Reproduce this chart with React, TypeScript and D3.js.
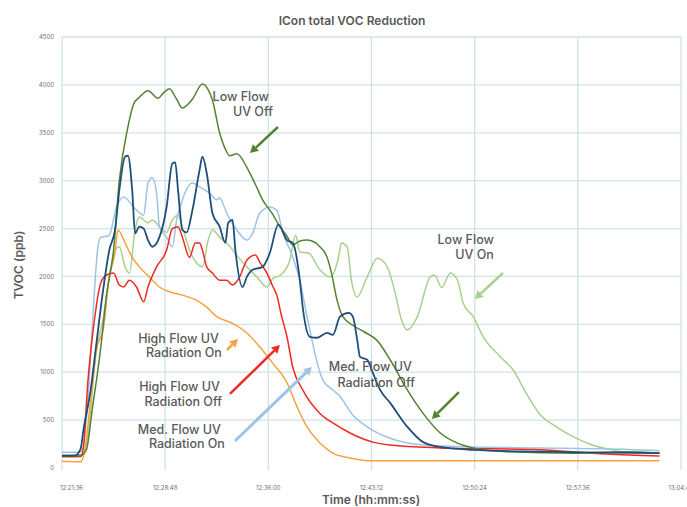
import * as d3 from "d3";

// elapsed minutes since 12:21:36, TVOC in ppb
const LOW_FLOW_OFF: [number, number][] = [
  [0, 130], [1.3, 135], [1.7, 190], [2.1, 600], [2.7, 1250], [3.1, 1800], [3.6, 2275], [4.0, 3000],
  [4.6, 3560], [5.0, 3800], [5.4, 3870], [6.0, 3940], [6.7, 3860], [7.1, 3920], [7.5, 3960], [8.0, 3850],
  [8.4, 3760], [9.1, 3850], [9.8, 4010], [10.2, 3950], [10.5, 3840], [11.0, 3500], [11.4, 3330], [11.7, 3260],
  [12.2, 3280], [12.9, 3140], [13.5, 2960], [14.0, 2800], [14.7, 2650], [15.2, 2520], [15.7, 2420], [16.1, 2330],
  [16.6, 2370], [17.1, 2380], [17.6, 2360], [18.0, 2310], [18.5, 2200], [18.8, 2040], [19.2, 1750], [19.6, 1580],
  [20.4, 1480], [21.1, 1420], [22.0, 1330], [22.9, 1130], [24.1, 815], [25.2, 570], [26.4, 365], [27.6, 260],
  [28.7, 210], [31.0, 170], [35.7, 155], [39.1, 170], [41.7, 155],
];

const LOW_FLOW_ON: [number, number][] = [
  [0, 115], [1.3, 120], [1.8, 325], [2.4, 1230], [2.9, 1580], [3.3, 2000], [3.7, 2275], [4.0, 2310],
  [4.4, 2100], [4.7, 2035], [5.1, 2485], [5.4, 2620], [6.0, 2560], [6.3, 2590], [6.8, 2520], [7.3, 2460],
  [7.7, 2590], [8.1, 2640], [8.4, 2520], [8.9, 2275], [9.4, 2140], [9.8, 2100], [10.2, 2380], [10.5, 2485],
  [11.0, 2410], [11.5, 2350], [12.2, 2220], [12.9, 2100], [13.6, 1995], [14.3, 1890], [14.7, 1975], [15.3, 2020],
  [15.9, 2170], [16.3, 2430], [16.6, 2255], [17.2, 2245], [18.0, 2070], [18.7, 1995], [19.3, 2200], [19.5, 2350],
  [19.9, 2310], [20.2, 1960], [20.6, 1785], [21.3, 1995], [22.0, 2190], [22.7, 2100], [23.2, 1860], [23.7, 1545],
  [24.1, 1440], [24.8, 1580], [25.7, 1995], [26.0, 2015], [26.5, 1885], [27.1, 2035], [27.6, 1960], [28.0, 1720],
  [28.7, 1580], [29.4, 1370], [30.6, 1160], [31.5, 1020], [32.4, 780], [33.3, 570], [34.5, 430], [35.7, 325],
  [37.0, 240], [38.4, 190], [39.4, 165], [40.3, 165], [41.7, 155],
];

const MED_FLOW_OFF: [number, number][] = [
  [0, 130], [0.9, 130], [1.3, 200], [1.5, 400], [2.0, 815], [2.4, 1300], [2.9, 1890], [3.3, 2275],
  [3.7, 2485], [4.0, 2900], [4.4, 3250], [4.6, 3260], [4.9, 2900], [5.1, 2450], [5.4, 2520], [5.7, 2500],
  [6.0, 2380], [6.3, 2310], [6.8, 2410], [7.3, 2725], [7.7, 3180], [7.9, 3190], [8.1, 2900], [8.4, 2485],
  [8.7, 2460], [9.1, 2690], [9.6, 3110], [9.8, 3250], [10.1, 3080], [10.5, 2660], [11.0, 2520], [11.4, 2350],
  [11.6, 2560], [11.9, 2590], [12.1, 2275], [12.6, 1890], [12.9, 1995], [13.3, 2070], [14.0, 2100], [14.5, 2245],
  [15.1, 2540], [15.7, 2380], [16.1, 2350], [16.6, 1960], [16.8, 1680], [17.3, 1370], [17.8, 1360], [18.5, 1410],
  [18.9, 1390], [19.4, 1580], [20.0, 1620], [20.3, 1580], [20.6, 1340], [20.8, 1160], [21.3, 1130], [21.7, 990],
  [22.2, 815], [22.9, 680], [24.1, 430], [25.2, 270], [26.4, 220], [28.7, 190], [33.3, 170], [38.0, 160],
  [41.7, 155],
];

const MED_FLOW_ON: [number, number][] = [
  [0, 165], [1.1, 165], [1.4, 180], [1.8, 700], [2.2, 1700], [2.5, 2300], [2.7, 2410], [3.1, 2420],
  [3.3, 2430], [3.8, 2725], [4.3, 2830], [5.0, 2725], [5.7, 2640], [6.0, 2975], [6.3, 3030], [6.6, 2870],
  [6.8, 2520], [7.3, 2410], [7.7, 2310], [8.0, 2590], [8.4, 2800], [9.1, 2975], [9.6, 2935], [10.3, 2870],
  [10.8, 2800], [11.0, 2820], [11.5, 2660], [12.2, 2485], [12.9, 2380], [13.3, 2450], [13.8, 2660], [14.5, 2725],
  [15.0, 2690], [15.4, 2460], [16.0, 2245], [16.6, 1960], [17.1, 1580], [17.4, 1370], [17.6, 1230], [18.2, 920],
  [18.9, 815], [19.4, 750], [20.2, 570], [21.3, 430], [22.9, 310], [25.2, 240], [28.7, 220], [33.3, 210],
  [38.0, 200], [41.7, 180],
];

const HIGH_FLOW_OFF: [number, number][] = [
  [0, 120], [1.3, 120], [1.5, 220], [1.8, 890], [2.2, 1470], [2.7, 1930], [3.1, 2015], [3.6, 2035],
  [4.0, 1910], [4.3, 1890], [4.7, 1960], [5.2, 1890], [5.7, 1735], [6.0, 1890], [6.6, 2100], [7.3, 2275],
  [7.7, 2500], [8.1, 2520], [8.4, 2410], [8.9, 2200], [9.3, 2350], [9.6, 2350], [9.8, 2275], [10.1, 2100],
  [10.5, 2035], [11.0, 1960], [11.5, 1960], [11.9, 1910], [12.4, 1995], [12.9, 2170], [13.5, 2225], [13.8, 2150],
  [14.3, 2035], [14.7, 1900], [15.0, 1800], [15.3, 1600], [15.7, 1370], [16.1, 1055], [16.8, 815], [18.0, 570],
  [18.9, 470], [20.1, 365], [21.7, 270], [22.9, 240], [26.4, 210], [33.3, 190], [38.0, 145], [41.7, 125],
];

const HIGH_FLOW_ON: [number, number][] = [
  [0, 70], [1.3, 65], [1.6, 190], [2.0, 710], [2.4, 1230], [2.9, 1470], [3.3, 1995], [3.7, 2250],
  [3.9, 2485], [4.4, 2350], [4.9, 2200], [5.4, 2100], [6.1, 1995], [6.8, 1890], [7.5, 1840], [8.4, 1805],
  [9.4, 1750], [10.1, 1680], [10.8, 1580], [11.9, 1510], [12.9, 1410], [13.8, 1265], [14.7, 1095], [15.7, 890],
  [16.4, 640], [17.1, 430], [18.0, 260], [18.9, 155], [20.1, 105], [21.7, 75], [41.7, 75],
];

const Y_TICKS = [0, 500, 1000, 1500, 2000, 2500, 3000, 3500, 4000, 4500];
const X_TICKS = ["12:21:36", "12:28:48", "12:36:00", "12:43:12", "12:50:24", "12:57:36", "13:04:48"];

const SERIES = [
  { name: "Low Flow UV On", data: LOW_FLOW_ON, color: "#a9d18e", width: 1.5 },
  { name: "Med. Flow UV On", data: MED_FLOW_ON, color: "#9dc3e6", width: 1.5 },
  { name: "High Flow UV On", data: HIGH_FLOW_ON, color: "#f8a13f", width: 1.5 },
  { name: "High Flow UV Off", data: HIGH_FLOW_OFF, color: "#f02a22", width: 1.5 },
  { name: "Low Flow UV Off", data: LOW_FLOW_OFF, color: "#548235", width: 1.5 },
  { name: "Med. Flow UV Off", data: MED_FLOW_OFF, color: "#1f4e79", width: 1.8 },
];

// annotation text: [line, minutes (right edge), ppb]
const LABELS: [string, number, number][] = [
  ["Low Flow", 14.44, 3873],
  ["UV Off", 14.72, 3717],
  ["Low Flow", 30.14, 2380],
  ["UV On", 30.14, 2224],
  ["Med. Flow UV", 24.42, 1054],
  ["Radiation Off", 24.63, 887],
  ["High Flow UV", 10.95, 1347],
  ["Radiation On", 11.16, 1201],
  ["High Flow UV", 11.02, 846],
  ["Radiation Off", 11.16, 689],
  ["Med. Flow UV", 11.09, 397],
  ["Radiation On", 11.37, 251],
];

// arrows: from [min, ppb] to [min, ppb]
const ARROWS: { from: [number, number]; to: [number, number]; color: string; w: number }[] = [
  { from: [15.07, 3560], to: [13.12, 3289], color: "#548235", w: 2.5 },
  { from: [30.77, 2036], to: [28.81, 1764], color: "#a9d18e", w: 2.5 },
  { from: [27.7, 793], to: [25.81, 512], color: "#548235", w: 2.5 },
  { from: [11.51, 1232], to: [12.28, 1347], color: "#f8a13f", w: 2.5 },
  { from: [11.72, 773], to: [15.21, 1284], color: "#ee2c26", w: 2.5 },
  { from: [12.07, 282], to: [17.44, 1054], color: "#9dc3e6", w: 3 },
];

const W = 687;
const H = 507;
const FONT = "Inter, Lato, 'Open Sans', sans-serif";

const parseClock = (s: string) => {
  const [h, m, sec] = s.split(":").map(Number);
  return new Date(2020, 0, 1, h, m, sec);
};
const T0 = parseClock(X_TICKS[0]);
const atMin = (m: number) => new Date(T0.getTime() + m * 60000);

export default function App() {
  const x = d3.scaleTime()
    .domain([T0, parseClock(X_TICKS[X_TICKS.length - 1])])
    .range([62, 681]);
  const y = d3.scaleLinear().domain([0, 4500]).range([468, 37]);

  const line = d3.line<[number, number]>()
    .x((d) => x(atMin(d[0])))
    .y((d) => y(d[1]))
    .curve(d3.curveMonotoneX);

  const grid = "#cfe3e3";

  return (
    <svg width={W} height={H} style={{ position: "absolute", left: 0, top: 0, background: "#fff" }}>
      {/* grid */}
      {Y_TICKS.filter((t) => t > 0).map((t) => (
        <line key={"h" + t} x1={62} x2={681} y1={y(t)} y2={y(t)} stroke={grid} strokeWidth={1.3} />
      ))}
      {X_TICKS.map((t) => (
        <line key={"v" + t} x1={x(parseClock(t))} x2={x(parseClock(t))} y1={37} y2={470} stroke={grid} strokeWidth={1.3} />
      ))}

      {/* ticks */}
      {Y_TICKS.map((t) => (
        <text key={"yl" + t} x={54} y={y(t)} dy="0.35em" textAnchor="end" fontSize={6} fill="#707070" fontFamily={FONT}>
          {t}
        </text>
      ))}
      {X_TICKS.map((t, i) => (
        <text key={"xl" + t} x={i === 0 ? x(parseClock(t)) - 2 : x(parseClock(t))} y={490} textAnchor={i === 0 ? "start" : "middle"}
          fontSize={6} fill="#707070" fontFamily={FONT}>
          {t}
        </text>
      ))}

      {/* series */}
      {SERIES.map((s) => (
        <path key={s.name} d={line(s.data) ?? ""} fill="none" stroke={s.color} strokeWidth={s.width} strokeLinejoin="round" />
      ))}

      {/* arrows */}
      {ARROWS.map((a, i) => {
        const x1 = x(atMin(a.from[0]));
        const y1 = y(a.from[1]);
        const x2 = x(atMin(a.to[0]));
        const y2 = y(a.to[1]);
        const ang = Math.atan2(y2 - y1, x2 - x1);
        const hl = 8;
        const hw = 4.5;
        const bx = x2 - hl * Math.cos(ang);
        const by = y2 - hl * Math.sin(ang);
        const px = -Math.sin(ang) * hw;
        const py = Math.cos(ang) * hw;
        return (
          <g key={"a" + i}>
            <line x1={x1} y1={y1} x2={bx} y2={by} stroke={a.color} strokeWidth={a.w} />
            <polygon points={`${x2},${y2} ${bx + px},${by + py} ${bx - px},${by - py}`} fill={a.color} />
          </g>
        );
      })}

      {/* annotation text */}
      {LABELS.map(([t, m, v], i) => (
        <text key={"lb" + i} x={x(atMin(m))} y={y(v)} dy="0.35em" textAnchor="end" fontSize={12.5}
          fill="#5a5a5a" fontFamily={FONT} fontWeight={500}>
          {t}
        </text>
      ))}

      {/* titles */}
      <text x={352} y={21} dy="0.35em" textAnchor="middle" fontSize={12} fontWeight={600} fill="#595959" fontFamily={FONT}>
        ICon total VOC Reduction
      </text>
      <text transform={`translate(19,265) rotate(-90)`} dy="0.35em" textAnchor="middle" fontSize={12} fontWeight={600}
        fill="#595959" fontFamily={FONT}>
        TVOC (ppb)
      </text>
      <text x={371} y={500} dy="0.35em" textAnchor="middle" fontSize={12} fontWeight={600} fill="#595959" fontFamily={FONT}>
        Time (hh:mm:ss)
      </text>
    </svg>
  );
}
